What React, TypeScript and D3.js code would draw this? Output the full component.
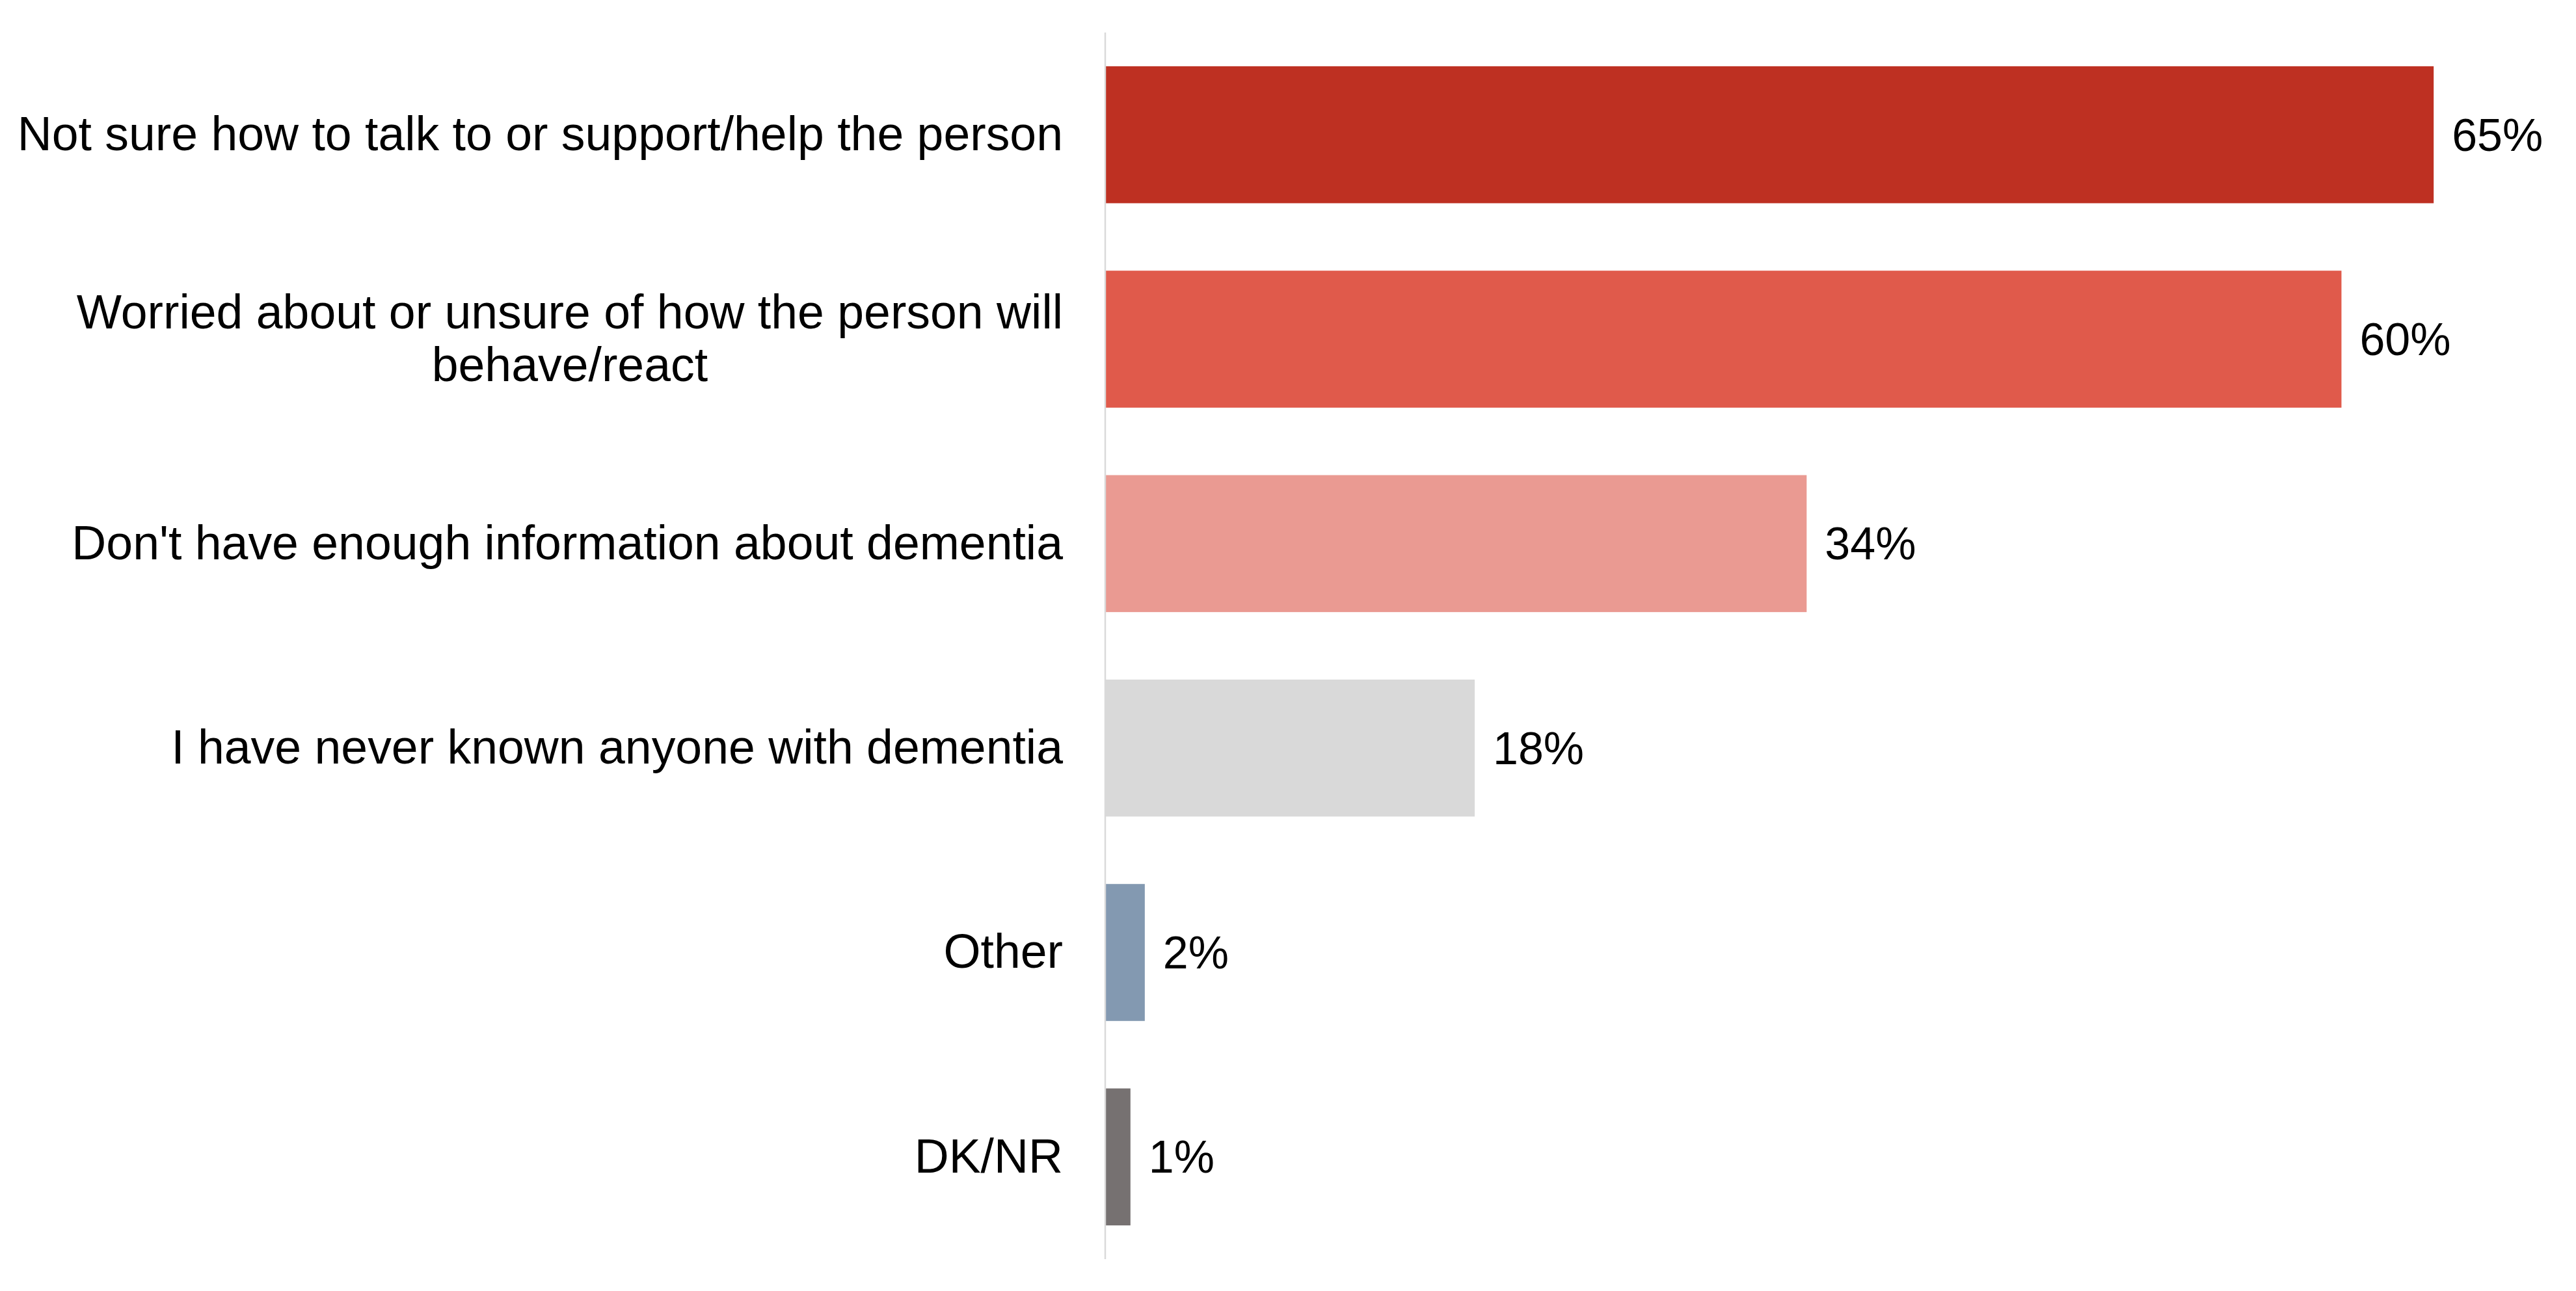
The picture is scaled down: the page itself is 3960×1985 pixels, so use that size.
import React, { useEffect, useRef } from "react";
import * as d3 from "d3";

const categories: string[][] = [
  ["Not sure how to talk to or support/help the person"],
  ["Worried about or unsure of how the person will", "behave/react"],
  ["Don't have enough information about dementia"],
  ["I have never known anyone with dementia"],
  ["Other"],
  ["DK/NR"],
];
const values: number[] = [64.8, 60.3, 34.2, 18.0, 1.9, 1.2];
const valueLabels: string[] = ["65%", "60%", "34%", "18%", "2%", "1%"];
const colors: string[] = ["#BE3022", "#E05A4B", "#EA9A92", "#D9D9D9", "#8399B1", "#767171"];

const W = 3960;
const H = 1985;
const FONT = "'Liberation Sans', Arial, sans-serif";
const FS_VAL = 70;
const FS_CAT = 73.4;

export default function App() {
  const ref = useRef<SVGSVGElement | null>(null);

  useEffect(() => {
    const svg = d3.select(ref.current);
    svg.selectAll("*").remove();

    const x0 = 1700;
    const x = d3.scaleLinear().domain([0, 70]).range([x0, x0 + 70 * 31.5]);
    const idx = categories.map((_, i) => String(i));
    const y = d3.scaleBand().domain(idx).range([50, 1936]).paddingInner(0.33).paddingOuter(0.165);

    svg.append("rect").attr("width", W).attr("height", H).attr("fill", "#ffffff");

    svg
      .selectAll("rect.bar")
      .data(values)
      .enter()
      .append("rect")
      .attr("class", "bar")
      .attr("x", x(0))
      .attr("y", (_, i) => y(String(i)) as number)
      .attr("width", (d) => x(d) - x(0))
      .attr("height", y.bandwidth())
      .attr("fill", (_, i) => colors[i]);

    svg
      .append("line")
      .attr("x1", x(0) - 1)
      .attr("x2", x(0) - 1)
      .attr("y1", 50)
      .attr("y2", 1936)
      .attr("stroke", "#D9D9D9")
      .attr("stroke-width", 2.5);

    // value labels
    svg
      .selectAll("text.val")
      .data(values)
      .enter()
      .append("text")
      .attr("class", "val")
      .attr("x", (d) => x(d) + 28)
      .attr("y", (_, i) => (y(String(i)) as number) + y.bandwidth() / 2)
      .attr("dy", "0.35em")
      .attr("font-family", FONT)
      .attr("font-size", FS_VAL)
      .attr("fill", "#000")
      .text((_, i) => valueLabels[i]);

    // category labels
    const labelRight = 1634;
    const lineH = 81;
    categories.forEach((lines, i) => {
      const cy = (y(String(i)) as number) + y.bandwidth() / 2;
      const g = svg.append("g");
      const texts = lines.map((ln, j) =>
        g
          .append("text")
          .attr("y", cy + (j - (lines.length - 1) / 2) * lineH - 2)
          .attr("dy", "0.35em")
          .attr("font-family", FONT)
          .attr("font-size", FS_CAT)
          .attr("fill", "#000")
          .text(ln)
      );
      if (lines.length === 1) {
        texts[0].attr("x", labelRight).attr("text-anchor", "end");
      } else {
        const widths = texts.map((t) => (t.node() as SVGTextElement).getComputedTextLength());
        const maxW = Math.max(...widths);
        const cx = labelRight - maxW / 2;
        texts.forEach((t) => t.attr("x", cx).attr("text-anchor", "middle"));
      }
    });
  }, []);

  return (
    <div style={{ position: "absolute", left: 0, top: 0 }}>
      <svg ref={ref} width={W} height={H} style={{ display: "block" }} />
    </div>
  );
}
